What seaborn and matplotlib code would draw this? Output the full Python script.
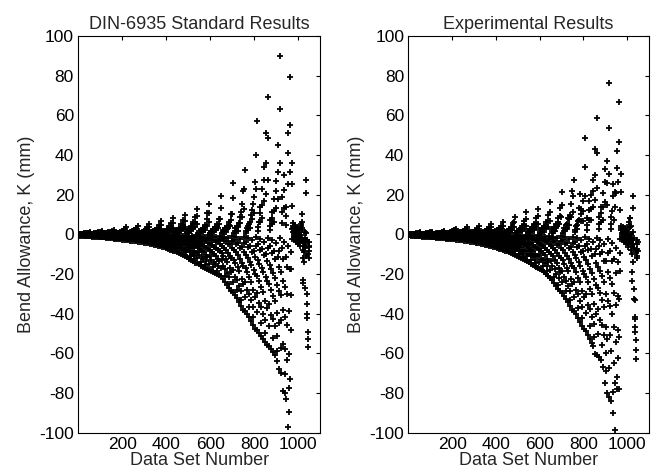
import numpy as np
import pandas as pd
import matplotlib
matplotlib.use("Agg")
import matplotlib.pyplot as plt
import seaborn as sns

# bend allowance deviation K (mm) per data set
# one value per data set number, 1..1050; groups of 54 sets
std_sets_0 = [
    -0.5, -0.4, -0.3, -0.2, -0.1, 0.0, 0.1, 0.2, 0.3,
    -0.6, -0.45, -0.3, -0.2, -0.1, 0.0, 0.15, 0.3, 0.4,
    -0.7, -0.5, -0.35, -0.25, -0.1, -0.05, 0.2, 0.35, 0.5,
    -0.8, -0.6, -0.4, -0.25, -0.15, -0.05, 0.3, 0.5, 0.7,
    -0.9, -0.7, -0.5, -0.3, -0.15, -0.05, 0.35, 0.6, 0.9,
    -1.0, -0.75, -0.5, -0.35, -0.2, -0.05, 0.5, 0.85, 1.2,
    -1.0, -0.75, -0.5, -0.35, -0.2, -0.05, 0.15, 0.3, 0.4,
    -1.1, -0.8, -0.55, -0.35, -0.2, -0.1, 0.25, 0.4, 0.6,
    -1.2, -0.9, -0.6, -0.4, -0.2, -0.1, 0.3, 0.55, 0.8,
    -1.3, -1.0, -0.7, -0.45, -0.25, -0.1, 0.4, 0.7, 1.0,
    -1.4, -1.05, -0.75, -0.45, -0.25, -0.1, 0.5, 0.9, 1.3,
    -1.5, -1.1, -0.8, -0.5, -0.25, -0.1, 0.7, 1.2, 1.7,
    -1.5, -1.1, -0.8, -0.5, -0.25, -0.1, 0.2, 0.35, 0.5,
    -1.6, -1.2, -0.85, -0.55, -0.3, -0.1, 0.3, 0.5, 0.7,
    -1.8, -1.35, -0.95, -0.6, -0.3, -0.1, 0.4, 0.7, 1.0,
    -1.9, -1.4, -1.0, -0.6, -0.35, -0.15, 0.5, 0.9, 1.3,
    -2.0, -1.5, -1.05, -0.65, -0.35, -0.15, 0.65, 1.1, 1.6,
    -2.1, -1.6, -1.1, -0.7, -0.4, -0.15, 0.8, 1.4, 2.0,
]
std_sets_1 = [
    -2.2, -1.65, -1.15, -0.75, -0.4, -0.15, 0.25, 0.4, 0.6,
    -2.3, -1.7, -1.2, -0.75, -0.4, -0.15, 0.35, 0.65, 0.9,
    -2.4, -1.8, -1.25, -0.8, -0.45, -0.15, 0.5, 0.9, 1.3,
    -2.6, -1.95, -1.35, -0.85, -0.45, -0.2, 0.7, 1.25, 1.8,
    -2.7, -2.0, -1.4, -0.9, -0.5, -0.2, 1.0, 1.75, 2.5,
    -2.8, -2.1, -1.45, -0.9, -0.5, -0.2, 1.4, 2.45, 3.5,
    -2.9, -2.2, -1.5, -0.95, -0.5, -0.2, 0.3, 0.55, 0.8,
    -3.0, -2.25, -1.55, -1.0, -0.55, -0.2, 0.45, 0.75, 1.1,
    -3.2, -2.4, -1.65, -1.05, -0.6, -0.2, 0.65, 1.1, 1.6,
    -3.3, -2.5, -1.7, -1.1, -0.6, -0.25, 0.9, 1.55, 2.2,
    -3.5, -2.6, -1.8, -1.15, -0.65, -0.25, 1.2, 2.1, 3.0,
    -3.6, -2.7, -1.9, -1.2, -0.65, -0.25, 1.6, 2.8, 4.0,
    -3.7, -2.8, -1.9, -1.2, -0.65, -0.25, 0.35, 0.65, 0.9,
    -3.9, -2.9, -2.0, -1.3, -0.7, -0.25, 0.5, 0.9, 1.3,
    -4.0, -3.0, -2.1, -1.3, -0.7, -0.3, 0.75, 1.3, 1.9,
    -4.2, -3.15, -2.2, -1.4, -0.75, -0.3, 1.1, 1.9, 2.7,
    -4.4, -3.3, -2.3, -1.45, -0.8, -0.3, 1.5, 2.6, 3.7,
    -4.6, -3.45, -2.4, -1.5, -0.85, -0.3, 2.0, 3.5, 5.0,
]
std_sets_2 = [
    -4.7, -3.5, -2.45, -1.55, -0.85, -0.35, 0.45, 0.75, 1.1,
    -5.0, -3.75, -2.6, -1.65, -0.9, -0.35, 0.65, 1.1, 1.6,
    -5.2, -3.9, -2.7, -1.7, -0.95, -0.35, 0.9, 1.6, 2.3,
    -5.5, -4.1, -2.85, -1.8, -1.0, -0.4, 1.3, 2.3, 3.3,
    -5.8, -4.35, -3.0, -1.9, -1.05, -0.4, 1.85, 3.2, 4.6,
    -6.1, -4.6, -3.2, -2.0, -1.1, -0.45, 2.7, 4.7, 6.7,
    -6.3, -4.7, -3.3, -2.1, -1.15, -0.45, 0.5, 0.9, 1.3,
    -6.6, -4.95, -3.45, -2.2, -1.2, -0.45, 0.75, 1.35, 1.9,
    -7.0, -5.25, -3.65, -2.3, -1.25, -0.5, 1.1, 1.95, 2.8,
    -7.3, -5.5, -3.8, -2.4, -1.3, -0.5, 1.6, 2.8, 4.0,
    -7.7, -5.8, -4.0, -2.55, -1.4, -0.55, 2.25, 3.9, 5.6,
    -8.0, -6.0, -4.15, -2.65, -1.45, -0.55, 3.3, 5.75, 8.2,
    -8.2, -6.15, -4.25, -2.7, -1.5, -0.55, 0.6, 1.05, 1.5,
    -8.6, -6.45, -4.5, -2.85, -1.55, -0.6, 0.9, 1.6, 2.3,
    -9.0, -6.75, -4.7, -3.0, -1.6, -0.65, 1.35, 2.4, 3.4,
    -9.5, -7.1, -4.95, -3.15, -1.7, -0.65, 2.0, 3.5, 5.0,
    -10.0, -7.5, -5.2, -3.3, -1.8, -0.7, 2.8, 4.9, 7.0,
    -10.5, -7.9, -5.45, -3.45, -1.9, -0.75, 3.85, 6.7, 9.6,
]
std_sets_3 = [
    -11.0, -9.0, -6.8, -4.85, -3.0, -1.1, 0.55, 1.1, 1.8,
    -11.6, -8.1, -5.55, -3.5, -1.85, -0.6, 1.25, 2.1, 2.8,
    -12.2, -10.75, -8.8, -6.35, -4.0, -1.7, 1.45, 2.75, 4.2,
    -12.8, -9.75, -7.05, -4.6, -2.55, -0.9, 3.1, 4.95, 6.2,
    -13.5, -12.4, -10.8, -8.35, -5.4, -2.45, 3.5, 6.15, 8.8,
    -14.2, -9.35, -5.95, -3.4, -1.7, -0.45, 5.2, 9.1, 13.0,
    -14.6, -12.0, -9.05, -6.4, -3.95, -1.45, 0.45, 0.9, 1.5,
    -15.2, -10.65, -7.3, -4.55, -2.45, -0.75, 1.0, 1.65, 2.2,
    -15.8, -13.9, -11.4, -8.2, -5.2, -2.2, 1.05, 1.95, 3.0,
    -16.4, -12.45, -9.0, -5.9, -3.3, -1.15, 2.25, 3.6, 4.5,
    -17.0, -15.65, -13.6, -10.55, -6.8, -3.05, 4.3, 7.55, 10.8,
    -17.6, -11.6, -7.4, -4.2, -2.1, -0.55, 6.2, 10.85, 15.5,
    -18.0, -14.75, -11.15, -7.9, -4.85, -1.8, 0.55, 1.1, 1.8,
    -18.5, -12.95, -8.9, -5.55, -2.95, -0.95, 1.1, 1.9, 2.5,
    -19.0, -16.7, -13.7, -9.9, -6.25, -2.65, 1.2, 2.3, 3.5,
    -19.5, -14.8, -10.7, -7.0, -3.9, -1.35, 2.5, 4.0, 5.0,
    -20.0, -18.4, -16.0, -12.4, -8.0, -3.6, 3.05, 5.3, 7.6,
    -20.5, -13.5, -8.6, -4.9, -2.45, -0.6, 7.7, 13.45, 19.2,
]
std_sets_4 = [
    -21.0, -17.2, -13.0, -9.25, -5.65, -2.1, 0.6, 1.2, 2.0,
    -22.5, -15.75, -10.8, -6.75, -3.6, -1.1, 1.35, 2.25, 3.0,
    -24.0, -21.1, -17.3, -12.5, -7.9, -3.35, 1.4, 2.6, 4.0,
    -25.5, -19.4, -14.0, -9.2, -5.1, -1.8, 3.0, 4.8, 6.0,
    -27.0, -24.85, -21.6, -16.75, -10.8, -4.85, 4.15, 7.3, 10.4,
    -28.5, -18.8, -12.0, -6.85, -3.4, -0.85, 10.4, 18.2, 26.0,
    -29.0, -23.8, -18.0, -12.75, -7.85, -2.9, 0.9, 1.8, 3.0,
    -30.5, -21.35, -14.65, -9.15, -4.9, -1.5, 1.8, 3.0, 4.0,
    -32.0, -28.15, -23.05, -16.65, -10.55, -4.5, 1.9, 3.6, 5.5,
    -34.0, -25.85, -18.7, -12.25, -6.8, -2.4, 5.5, 8.8, 11.0,
    -36.0, -33.1, -28.8, -22.3, -14.4, -6.5, 8.8, 15.4, 22.0,
    -38.0, -25.1, -15.95, -9.1, -4.55, -1.15, 13.0, 22.8, 32.6,
    -38.5, -31.55, -23.85, -16.95, -10.4, -3.85, 0.9, 1.8, 3.0,
    -40.0, -28.0, -19.2, -12.0, -6.4, -2.0, 2.45, 4.05, 5.4,
    -41.5, -36.5, -29.9, -21.6, -13.7, -5.8, 3.35, 6.25, 9.6,
    -43.5, -33.05, -23.9, -15.65, -8.7, -3.05, 7.75, 12.4, 15.5,
    -45.5, -41.85, -36.4, -28.2, -18.2, -8.2, 10.6, 18.55, 26.5,
    -47.5, -31.35, -19.95, -11.4, -5.7, -1.45, 22.8, 39.9, 57.0,
]
std_sets_5 = [
    -48.0, -39.35, -29.75, -21.1, -12.95, -4.8, 1.8, 3.6, 6.0,
    -49.5, -34.65, -23.75, -14.85, -7.9, -2.5, 6.3, 10.5, 14.0,
    -51.0, -44.9, -36.7, -26.5, -16.85, -7.15, 8.05, 14.95, 23.0,
    -52.5, -39.9, -28.9, -18.9, -10.5, -3.7, 17.0, 27.2, 34.0,
    -54.0, -49.7, -43.2, -33.5, -21.6, -9.7, 20.4, 35.7, 51.0,
    -56.0, -36.95, -23.5, -13.45, -6.7, -1.7, 27.6, 48.3, 69.0,
    -56.5, -46.35, -35.05, -24.85, -15.25, -5.65, 2.1, 4.2, 7.0,
    -58.0, -40.6, -27.85, -17.4, -9.3, -2.9, 4.95, 8.25, 11.0,
    -59.5, -52.35, -42.85, -30.95, -19.65, -8.35, 6.3, 11.7, 18.0,
    -61.0, -46.35, -33.55, -21.95, -12.2, -4.25, 13.5, 21.6, 27.0,
    -64.0, -58.9, -51.2, -39.7, -25.6, -11.5, 18.0, 31.5, 45.0,
    -68.0, -44.9, -28.55, -16.3, -8.15, -2.05, 36.0, 63.0, 90.0,
    -70.0, -57.4, -43.4, -30.8, -18.9, -7.0, 5.7, 11.4, 19.0,
    -79.0, -55.3, -37.9, -23.7, -12.65, -3.95, 13.5, 22.5, 30.0,
    -80.0, -70.4, -57.6, -41.6, -26.4, -11.2, 4.9, 9.1, 14.0,
    -83.0, -63.1, -45.65, -29.9, -16.6, -5.8, 25.5, 40.8, 51.0,
    -97.0, -89.25, -77.6, -60.15, -38.8, -17.45, 31.6, 55.3, 79.0,
    -73.0, -48.2, -30.65, -17.5, -8.75, -2.2, 14.4, 25.2, 36.0,
]
std_sets_tail = [
    2.5, 4.0, 5.5, 3.0, 1.0, -0.5, -1.5, -2.5, 0.5, 1.5, 3.5, 4.5, 2.0, 0.0,
    -1.0, -2.0, -3.0, -4.0, -1.5, 0.5, 2.0, 3.0, 1.0, -0.5, -2.0, -3.5, -5.0,
    -2.5, -1.0, 0.0, 1.5, 2.5, 0.5, -1.5, -3.0, -4.5, -6.0, -3.5, -2.0, -0.5,
    4.0, 5.0, 3.0,
    10.0, 6.0, 2.0, -3.0, -8.0, -12.0, -23.0, -24.5, -6.0, -4.0, -9.0, -14.0,
    -27.0, -5.0, -2.0, 1.0, -7.0, -11.0, 27.5, 21.0, 0.5, -3.0, -30.0, -35.0,
    -40.0, -42.0, -49.0, -52.5, -57.0, -10.0, -6.0, -8.5, -4.0, -12.0, -6.5,
]

exp_sets_0 = [
    -0.5, -0.4, -0.25, -0.15, -0.1, 0.0, 0.1, 0.15, 0.2,
    -0.6, -0.45, -0.3, -0.2, -0.1, -0.05, 0.1, 0.2, 0.3,
    -0.7, -0.5, -0.35, -0.25, -0.15, -0.05, 0.15, 0.3, 0.4,
    -0.8, -0.6, -0.4, -0.25, -0.15, -0.05, 0.25, 0.4, 0.6,
    -0.9, -0.7, -0.45, -0.3, -0.15, -0.05, 0.3, 0.55, 0.8,
    -1.0, -0.75, -0.5, -0.35, -0.2, -0.05, 0.4, 0.7, 1.0,
    -1.0, -0.75, -0.5, -0.35, -0.2, -0.05, 0.1, 0.2, 0.3,
    -1.1, -0.8, -0.55, -0.35, -0.2, -0.1, 0.15, 0.3, 0.4,
    -1.2, -0.9, -0.6, -0.4, -0.2, -0.1, 0.25, 0.4, 0.6,
    -1.3, -1.0, -0.7, -0.45, -0.25, -0.1, 0.3, 0.55, 0.8,
    -1.4, -1.05, -0.75, -0.45, -0.25, -0.1, 0.4, 0.7, 1.0,
    -1.5, -1.1, -0.8, -0.5, -0.25, -0.1, 0.5, 0.9, 1.3,
    -1.5, -1.1, -0.8, -0.5, -0.25, -0.1, 0.15, 0.3, 0.4,
    -1.6, -1.2, -0.85, -0.55, -0.3, -0.1, 0.2, 0.35, 0.5,
    -1.7, -1.3, -0.9, -0.55, -0.3, -0.1, 0.3, 0.5, 0.7,
    -1.8, -1.35, -0.95, -0.6, -0.3, -0.15, 0.35, 0.65, 0.9,
    -1.9, -1.4, -1.0, -0.65, -0.35, -0.15, 0.5, 0.85, 1.2,
    -2.0, -1.5, -1.05, -0.65, -0.35, -0.15, 0.65, 1.1, 1.6,
]
exp_sets_1 = [
    -2.1, -1.6, -1.1, -0.7, -0.4, -0.15, 0.25, 0.4, 0.6,
    -2.2, -1.65, -1.15, -0.75, -0.4, -0.15, 0.3, 0.55, 0.8,
    -2.3, -1.7, -1.2, -0.75, -0.4, -0.15, 0.45, 0.75, 1.1,
    -2.4, -1.8, -1.25, -0.8, -0.45, -0.15, 0.6, 1.05, 1.5,
    -2.5, -1.9, -1.3, -0.8, -0.45, -0.2, 0.85, 1.45, 2.1,
    -2.6, -1.95, -1.35, -0.85, -0.45, -0.2, 1.15, 2.0, 2.9,
    -2.7, -2.0, -1.4, -0.9, -0.5, -0.2, 0.3, 0.5, 0.7,
    -2.8, -2.1, -1.45, -0.9, -0.5, -0.2, 0.4, 0.7, 1.0,
    -3.0, -2.25, -1.55, -1.0, -0.55, -0.2, 0.55, 1.0, 1.4,
    -3.1, -2.3, -1.6, -1.0, -0.55, -0.2, 0.75, 1.35, 1.9,
    -3.3, -2.5, -1.7, -1.1, -0.6, -0.25, 1.05, 1.8, 2.6,
    -3.4, -2.55, -1.75, -1.1, -0.6, -0.25, 1.4, 2.45, 3.5,
    -3.5, -2.6, -1.8, -1.15, -0.65, -0.25, 0.3, 0.5, 0.7,
    -3.7, -2.8, -1.9, -1.2, -0.65, -0.25, 0.4, 0.7, 1.0,
    -3.8, -2.85, -2.0, -1.25, -0.7, -0.25, 0.55, 1.0, 1.4,
    -4.0, -3.0, -2.1, -1.3, -0.7, -0.3, 0.8, 1.4, 2.0,
    -4.2, -3.15, -2.2, -1.4, -0.75, -0.3, 1.1, 1.95, 2.8,
    -4.4, -3.3, -2.3, -1.45, -0.8, -0.3, 1.6, 2.8, 4.0,
]
exp_sets_2 = [
    -4.5, -3.4, -2.35, -1.5, -0.8, -0.3, 0.35, 0.65, 0.9,
    -4.7, -3.5, -2.45, -1.55, -0.85, -0.35, 0.5, 0.9, 1.3,
    -5.0, -3.75, -2.6, -1.65, -0.9, -0.35, 0.7, 1.25, 1.8,
    -5.2, -3.9, -2.7, -1.7, -0.95, -0.35, 1.05, 1.8, 2.6,
    -5.5, -4.1, -2.85, -1.8, -1.0, -0.4, 1.5, 2.6, 3.7,
    -5.8, -4.35, -3.0, -1.9, -1.05, -0.4, 2.15, 3.8, 5.4,
    -6.0, -4.5, -3.1, -2.0, -1.1, -0.4, 0.4, 0.7, 1.0,
    -6.3, -4.7, -3.3, -2.1, -1.15, -0.45, 0.6, 1.05, 1.5,
    -6.6, -4.95, -3.45, -2.2, -1.2, -0.45, 0.8, 1.4, 2.0,
    -6.9, -5.2, -3.6, -2.3, -1.25, -0.5, 1.2, 2.1, 3.0,
    -7.2, -5.4, -3.75, -2.4, -1.3, -0.5, 1.7, 3.0, 4.3,
    -7.6, -5.7, -3.95, -2.5, -1.35, -0.55, 2.5, 4.35, 6.2,
    -7.8, -5.85, -4.05, -2.6, -1.4, -0.55, 0.5, 0.85, 1.2,
    -8.2, -6.15, -4.25, -2.7, -1.5, -0.55, 0.7, 1.25, 1.8,
    -8.6, -6.45, -4.45, -2.85, -1.55, -0.6, 1.0, 1.75, 2.5,
    -9.0, -6.75, -4.7, -3.0, -1.6, -0.65, 1.4, 2.45, 3.5,
    -9.4, -7.05, -4.9, -3.1, -1.7, -0.65, 2.2, 3.85, 5.5,
    -9.9, -7.4, -5.15, -3.25, -1.8, -0.7, 3.5, 6.1, 8.7,
]
exp_sets_3 = [
    -10.2, -8.35, -6.3, -4.5, -2.75, -1.0, 0.45, 0.9, 1.5,
    -10.7, -7.5, -5.15, -3.2, -1.7, -0.55, 1.0, 1.65, 2.2,
    -11.2, -9.85, -8.05, -5.8, -3.7, -1.55, 1.05, 1.95, 3.0,
    -11.8, -8.95, -6.5, -4.25, -2.35, -0.85, 2.1, 3.35, 4.2,
    -12.4, -11.4, -9.9, -7.7, -4.95, -2.25, 2.6, 4.55, 6.5,
    -13.0, -8.6, -5.45, -3.1, -1.55, -0.4, 4.4, 7.7, 11.0,
    -13.5, -11.05, -8.35, -5.95, -3.65, -1.35, 0.5, 1.0, 1.7,
    -14.1, -9.85, -6.75, -4.25, -2.25, -0.7, 1.1, 1.9, 2.5,
    -14.7, -12.95, -10.6, -7.65, -4.85, -2.05, 1.2, 2.3, 3.5,
    -15.3, -11.65, -8.4, -5.5, -3.05, -1.05, 2.5, 4.0, 5.0,
    -15.9, -14.65, -12.7, -9.85, -6.35, -2.85, 3.2, 5.6, 8.0,
    -16.5, -10.9, -6.95, -3.95, -2.0, -0.5, 5.2, 9.1, 13.0,
    -17.0, -13.95, -10.55, -7.5, -4.6, -1.7, 0.6, 1.2, 2.0,
    -17.6, -12.3, -8.45, -5.3, -2.8, -0.9, 1.35, 2.25, 3.0,
    -18.2, -16.0, -13.1, -9.45, -6.0, -2.55, 1.4, 2.6, 4.0,
    -19.0, -14.45, -10.45, -6.85, -3.8, -1.35, 3.0, 4.8, 6.0,
    -20.0, -18.4, -16.0, -12.4, -8.0, -3.6, 3.85, 6.7, 9.6,
    -21.0, -13.85, -8.8, -5.05, -2.5, -0.65, 6.5, 11.4, 16.3,
]
exp_sets_4 = [
    -22.0, -18.05, -13.65, -9.7, -5.95, -2.2, 0.75, 1.5, 2.5,
    -23.0, -16.1, -11.05, -6.9, -3.7, -1.15, 1.6, 2.6, 3.5,
    -24.5, -21.55, -17.65, -12.75, -8.1, -3.45, 1.75, 3.25, 5.0,
    -26.0, -19.75, -14.3, -9.35, -5.2, -1.8, 4.0, 6.4, 8.0,
    -27.5, -25.3, -22.0, -17.05, -11.0, -4.95, 5.35, 9.4, 13.4,
    -28.7, -18.95, -12.05, -6.9, -3.45, -0.85, 8.5, 14.9, 21.3,
    -29.5, -24.2, -18.3, -13.0, -7.95, -2.95, 0.9, 1.8, 3.0,
    -31.0, -21.7, -14.9, -9.3, -4.95, -1.55, 2.0, 3.4, 4.5,
    -32.5, -28.6, -23.4, -16.9, -10.75, -4.55, 2.8, 5.2, 8.0,
    -34.0, -25.85, -18.7, -12.25, -6.8, -2.4, 4.8, 7.7, 9.6,
    -36.0, -33.1, -28.8, -22.3, -14.4, -6.5, 8.8, 15.4, 22.0,
    -38.0, -25.1, -15.95, -9.1, -4.55, -1.15, 11.0, 19.3, 27.6,
    -38.5, -31.55, -23.85, -16.95, -10.4, -3.85, 1.2, 2.4, 4.0,
    -40.0, -28.0, -19.2, -12.0, -6.4, -2.0, 2.9, 4.9, 6.5,
    -42.0, -36.95, -30.25, -21.85, -13.85, -5.9, 7.2, 13.3, 20.5,
    -44.0, -33.45, -24.2, -15.85, -8.8, -3.1, 6.5, 10.4, 13.0,
    -46.0, -42.3, -36.8, -28.5, -18.4, -8.3, 6.65, 11.6, 16.6,
    -47.6, -31.4, -20.0, -11.4, -5.7, -1.45, 19.35, 33.9, 48.4,
]
exp_sets_5 = [
    -48.5, -39.75, -30.05, -21.35, -13.1, -4.85, 2.4, 4.8, 8.0,
    -50.5, -35.35, -24.25, -15.15, -8.1, -2.5, 7.45, 12.45, 16.6,
    -52.5, -46.2, -37.8, -27.3, -17.3, -7.35, 7.0, 13.0, 20.0,
    -54.5, -41.4, -30.0, -19.6, -10.9, -3.8, 13.75, 22.0, 27.5,
    -56.3, -51.8, -45.05, -34.9, -22.5, -10.15, 17.2, 30.1, 43.0,
    -60.5, -39.95, -25.4, -14.5, -7.25, -1.8, 23.5, 41.1, 58.7,
    -61.0, -50.0, -37.8, -26.85, -16.45, -6.1, 2.6, 5.2, 8.7,
    -62.0, -43.4, -29.75, -18.6, -9.9, -3.1, 6.3, 10.5, 14.0,
    -63.5, -55.9, -45.7, -33.0, -20.95, -8.9, 7.35, 13.65, 21.0,
    -67.0, -50.9, -36.85, -24.1, -13.4, -4.7, 16.5, 26.4, 33.0,
    -75.0, -69.0, -60.0, -46.5, -30.0, -13.5, 14.8, 25.9, 37.0,
    -80.0, -52.8, -33.6, -19.2, -9.6, -2.4, 30.5, 53.4, 76.3,
    -82.0, -67.25, -50.85, -36.1, -22.15, -8.2, 2.6, 5.2, 8.7,
    -84.0, -58.8, -40.3, -25.2, -13.45, -4.2, 11.5, 19.1, 25.5,
    -90.0, -79.2, -64.8, -46.8, -29.7, -12.6, 7.45, 13.85, 21.3,
    -98.5, -74.85, -54.2, -35.45, -19.7, -6.9, 21.0, 33.6, 42.0,
    -78.0, -71.75, -62.4, -48.35, -31.2, -14.05, 26.6, 46.55, 66.5,
    -78.0, -51.5, -32.75, -18.7, -9.35, -2.35, 12.25, 21.4, 30.6,
]
exp_sets_tail = [
    3.0, 4.0, 2.0, 0.5, -0.5, -1.5, -2.5, 1.0, 2.5, 3.5, 1.5, 0.0, -1.0, -2.0,
    -3.0, -4.0, -1.5, 0.5, 2.0, 3.0, 1.0, -0.5, -2.0, -3.5, -4.5, -2.5, -1.0,
    0.0, 1.5, 2.5, 0.5, -1.5, -3.0, -5.0, -6.5, -3.5, -2.0, 4.5, 6.0, 8.0,
    3.5, -1.0, -4.0,
    8.0, 4.0, 0.0, -4.0, -8.0, -19.0, -23.7, -6.0, -10.0, -3.0, -14.0, -5.0,
    19.3, 13.4, 1.0, -2.0, -7.0, -27.4, -32.4, -33.3, -41.7, -42.5, -46.7,
    -49.2, -53.4, -58.5, -62.7, -9.0, -5.0, -11.0, -3.0, -7.5, -12.0, -4.0, -8.5,
]

titles = ["DIN-6935 Standard Results", "Experimental Results"]
x_ticks = [200, 400, 600, 800, 1000]
y_ticks = list(range(-100, 101, 20))

std_k = (std_sets_0 + std_sets_1 + std_sets_2 + std_sets_3 + std_sets_4
         + std_sets_5 + std_sets_tail)
exp_k = (exp_sets_0 + exp_sets_1 + exp_sets_2 + exp_sets_3 + exp_sets_4
         + exp_sets_5 + exp_sets_tail)

sns.set_style("white")
plt.rcParams["font.family"] = ["Liberation Sans", "DejaVu Sans"]
plt.rcParams["axes.unicode_minus"] = False

fig = plt.figure(figsize=(6.62, 4.71), dpi=100)
ax_std = fig.add_axes([0.118, 0.081, 0.366, 0.843])
ax_exp = fig.add_axes([0.617, 0.081, 0.363, 0.843])

for ax, title, k in [(ax_std, titles[0], std_k), (ax_exp, titles[1], exp_k)]:
    df = pd.DataFrame({"set": np.arange(1, len(k) + 1), "K": k})
    sns.scatterplot(data=df, x="set", y="K", marker="+", color="black",
                    s=18, linewidth=1.3, ax=ax, legend=False)
    ax.set_xlim(0, 1100)
    ax.set_ylim(-100, 100)
    ax.set_xticks(x_ticks)
    ax.set_yticks(y_ticks)
    ax.tick_params(direction="in", top=True, right=True, length=3,
                   labelsize=12.5, colors="black", pad=3)
    for sp in ax.spines.values():
        sp.set_visible(True)
        sp.set_color("black")
        sp.set_linewidth(0.8)
    ax.set_title(title, fontsize=13, pad=5)
    ax.set_xlabel("Data Set Number", fontsize=13, labelpad=0)
    ax.set_ylabel("Bend Allowance, K (mm)", fontsize=13, labelpad=3)

fig.savefig("out.png", dpi=100)
